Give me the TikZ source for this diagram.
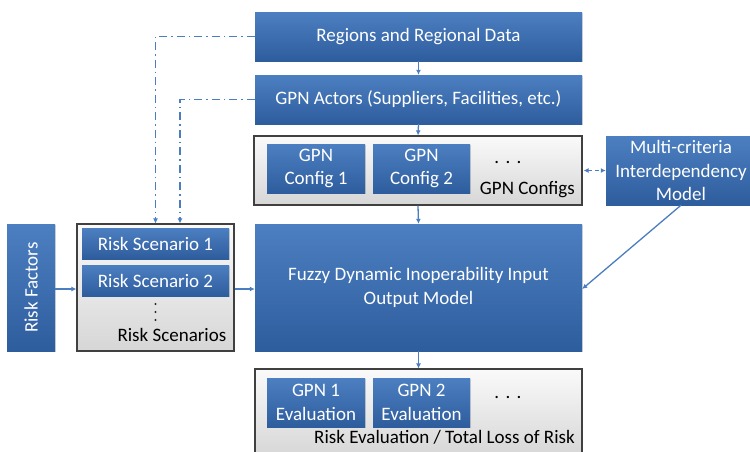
\documentclass[tikz,border=0pt]{standalone}
\usepackage{fontspec}
\setmainfont{Carlito}
\usetikzlibrary{arrows.meta,shadows}
\definecolor{blueT}{RGB}{76,127,193}
\definecolor{blueB}{RGB}{46,93,157}
\definecolor{lineblue}{RGB}{74,126,193}
\tikzset{
  bluebox/.style={draw=none, top color=blueT, bottom color=blueB, text=white,
    inner sep=0pt, align=center, font=\fontsize{19}{23.5}\selectfont,
    drop shadow={opacity=0.3, shadow xshift=1.2pt, shadow yshift=-1.2pt}},
  graybox/.style={draw=black!75, line width=1.2pt, top color=gray!4, bottom color=gray!32,
    inner sep=0pt,
    drop shadow={opacity=0.3, shadow xshift=1.2pt, shadow yshift=-1.2pt}},
  lbl/.style={inner sep=0pt, text=black, font=\fontsize{19}{23.5}\selectfont},
  conn/.style={draw=lineblue, line width=1.3pt, -{Latex[length=5pt,width=5pt]}},
  dashdot/.style={conn, dash pattern=on 8pt off 4pt on 1.5pt off 4pt},
}
\begin{document}
\begin{tikzpicture}[x=1pt,y=-1pt]
\useasboundingbox (0,0) rectangle (750,451);
% top column
\node[bluebox, minimum width=327pt, minimum height=49pt] (reg) at (418.5,36.5) {Regions and Regional Data};
\node[bluebox, minimum width=327pt, minimum height=49pt] (act) at (418.5,99.5) {GPN Actors (Suppliers, Facilities, etc.)};
\node[graybox, minimum width=328pt, minimum height=69pt] (cfgs) at (418,170.5) {};
\node[bluebox, minimum width=98pt, minimum height=49pt] (c1) at (316,168.5) {GPN\\Config 1};
\node[bluebox, minimum width=97pt, minimum height=49pt] (c2) at (421.5,168.5) {GPN\\Config 2};
\node[lbl] (cdots) at (508,162) {.\,\,.\,\,.};
\node[lbl, anchor=east] (cfgslbl) at (575,190) {GPN Configs};
\node[bluebox, minimum width=150pt, minimum height=69pt] (multi) at (681,170.5) {Multi-criteria\\Interdependency\\Model};
% middle row
\node[bluebox, minimum width=327pt, minimum height=127pt] (fuzzy) at (418.5,287.5) {Fuzzy Dynamic Inoperability Input\\Output Model};
\node[bluebox, minimum width=48pt, minimum height=127pt] (rf) at (31,287.5) {\rotatebox{90}{Risk Factors}};
\node[graybox, minimum width=157pt, minimum height=127pt] (rsbox) at (155.5,287.5) {};
\node[bluebox, minimum width=147pt, minimum height=31pt] (rs1) at (155.5,243.5) {Risk Scenario 1};
\node[bluebox, minimum width=147pt, minimum height=31pt] (rs2) at (155.5,280.5) {Risk Scenario 2};
\fill[black!85] (155.5,304) circle (1.2pt) (155.5,312) circle (1.2pt) (155.5,320) circle (1.2pt);
\node[lbl, anchor=east] (rslbl) at (226.5,335) {Risk Scenarios};
% bottom
\node[graybox, minimum width=327pt, minimum height=88pt] (evalbox) at (418.5,413) {};
\node[bluebox, minimum width=98pt, minimum height=49pt] (e1) at (316,402.5) {GPN 1\\Evaluation};
\node[bluebox, minimum width=97pt, minimum height=49pt] (e2) at (421.5,402.5) {GPN 2\\Evaluation};
\node[lbl] (edots) at (508,397) {.\,\,.\,\,.};
\node[lbl, anchor=east] (evallbl) at (575,437) {Risk Evaluation / Total Loss of Risk};
% connectors
\draw[conn] (reg.south) -- (act.north);
\draw[conn] (act.south) -- (cfgs.north);
\draw[conn] (cfgs.south) -- (fuzzy.north);
\draw[conn] (fuzzy.south) -- (evalbox.north);
\draw[conn] ([yshift=-1.5pt]rf.east) -- ([yshift=-1.5pt]rsbox.west);
\draw[conn] ([yshift=-1.5pt]rsbox.east) -- ([yshift=-1.5pt]fuzzy.west);
\draw[dashdot] (reg.west) -| (rsbox.north);
\draw[dashdot] (act.west) -| ([xshift=24.5pt]rsbox.north);
\draw[conn, {Latex[length=5pt,width=5pt]}-{Latex[length=5pt,width=5pt]}, dash pattern=on 4pt off 3pt] ([xshift=1pt]cfgs.east) -- (multi.west);
\draw[conn] (multi.south) -- ([yshift=-1.5pt]fuzzy.east);
\end{tikzpicture}
\end{document}
